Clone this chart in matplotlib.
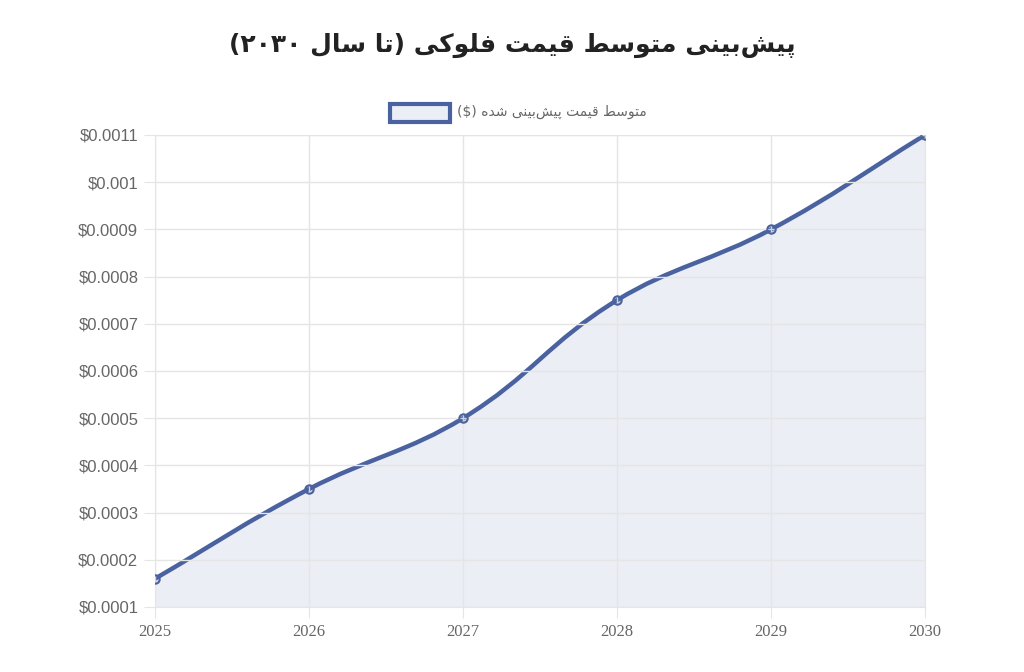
import matplotlib
matplotlib.use("Agg")
import matplotlib.pyplot as plt
from matplotlib.path import Path
from matplotlib.patches import PathPatch, Rectangle
import numpy as np

years = [2025, 2026, 2027, 2028, 2029, 2030]
prices = [0.00016, 0.00035, 0.0005, 0.00075, 0.0009, 0.0011]
yticks = [0.0001, 0.0002, 0.0003, 0.0004, 0.0005, 0.0006, 0.0007, 0.0008, 0.0009, 0.001, 0.0011]
title_text = "پیش\u200cبینی متوسط قیمت فلوکی (تا سال ۲۰۳۰)"
legend_text = "متوسط قیمت پیش\u200cبینی شده ($)"

FORMS = {
    'ا': (0xFE8D, 0xFE8E, None, None), 'ب': (0xFE8F, 0xFE90, 0xFE91, 0xFE92),
    'پ': (0xFB56, 0xFB57, 0xFB58, 0xFB59), 'ت': (0xFE95, 0xFE96, 0xFE97, 0xFE98),
    'د': (0xFEA9, 0xFEAA, None, None), 'س': (0xFEB1, 0xFEB2, 0xFEB3, 0xFEB4),
    'ش': (0xFEB5, 0xFEB6, 0xFEB7, 0xFEB8), 'ط': (0xFEC1, 0xFEC2, 0xFEC3, 0xFEC4),
    'ف': (0xFED1, 0xFED2, 0xFED3, 0xFED4), 'ق': (0xFED5, 0xFED6, 0xFED7, 0xFED8),
    'ک': (0xFB8E, 0xFB8F, 0xFB90, 0xFB91), 'ل': (0xFEDD, 0xFEDE, 0xFEDF, 0xFEE0),
    'م': (0xFEE1, 0xFEE2, 0xFEE3, 0xFEE4), 'ن': (0xFEE5, 0xFEE6, 0xFEE7, 0xFEE8),
    'ه': (0xFEE9, 0xFEEA, 0xFEEB, 0xFEEC), 'و': (0xFEED, 0xFEEE, None, None),
    'ی': (0xFBFC, 0xFBFD, 0xFBFE, 0xFBFF),
}

def shape(s):
    out = []
    chars = list(s)
    for i, c in enumerate(chars):
        if c not in FORMS:
            if c != '\u200c':
                out.append(c)
            continue
        f = FORMS[c]
        prev = chars[i - 1] if i > 0 else None
        nxt = chars[i + 1] if i + 1 < len(chars) else None
        jp = prev in FORMS and FORMS[prev][2] is not None
        jn = nxt in FORMS and f[2] is not None
        if jp and jn:
            out.append(chr(f[3]))
        elif jp:
            out.append(chr(f[1]))
        elif jn:
            out.append(chr(f[2]))
        else:
            out.append(chr(f[0]))
    # visual order: reverse, keep digit/latin runs LTR, mirror parens
    runs, cur = [], ""
    def isltr(ch):
        return ch.isdigit() or ch == '$'
    for ch in out:
        if isltr(ch):
            cur += ch
        else:
            if cur:
                runs.append(cur); cur = ""
            runs.append(ch)
    if cur:
        runs.append(cur)
    mirror = {'(': ')', ')': '('}
    return "".join(mirror.get(r, r) for r in reversed(runs))

fig = plt.figure(figsize=(10.24, 6.72), dpi=100)
ax = fig.add_axes([155/1024, 1-607/672, 770/1024, 472/672])

# chart.js-like bezier (tension 0.4)
x = np.array(years, float); y = np.array(prices, float)
t = 0.4
verts = [(x[0], y[0])]; codes = [Path.MOVETO]
n = len(x)
def ctrl(i):
    p0 = i - 1 if i > 0 else i
    p2 = i + 1 if i < n - 1 else i
    d01 = np.hypot(x[i]-x[p0], (y[i]-y[p0])*5000)
    d12 = np.hypot(x[p2]-x[i], (y[p2]-y[i])*5000)
    s = d01+d12 if d01+d12 else 1
    fa = t*d01/s; fb = t*d12/s
    return ((x[i]-fa*(x[p2]-x[p0]), y[i]-fa*(y[p2]-y[p0])),
            (x[i]+fb*(x[p2]-x[p0]), y[i]+fb*(y[p2]-y[p0])))
cps = [ctrl(i) for i in range(n)]
for i in range(n-1):
    verts += [cps[i][1], cps[i+1][0], (x[i+1], y[i+1])]
    codes += [Path.CURVE4]*3
line_path = Path(verts, codes)
fill_path = Path(verts + [(x[-1], 0.0001), (x[0], 0.0001), (x[0], y[0])],
                 codes + [Path.LINETO, Path.LINETO, Path.CLOSEPOLY])
col = '#4a62a0'
ax.add_patch(PathPatch(fill_path, facecolor=(0.29, 0.38, 0.63, 0.1), edgecolor='none'))
ax.add_patch(PathPatch(line_path, facecolor='none', edgecolor=col, lw=3.2))
ax.plot(years, prices, 'o', ms=6, mfc=(0.29, 0.38, 0.63, 0.15), mec=col, mew=1.5, zorder=5)

ax.set_xlim(2025, 2030); ax.set_ylim(0.0001, 0.0011)
ax.set_xticks(years); ax.set_yticks(yticks)
ax.set_yticklabels([f"${v:g}" for v in yticks], fontfamily='Liberation Sans', fontsize=12, color='#666666')
ax.set_xticklabels([str(v) for v in years], fontfamily='Liberation Serif', fontsize=12, color='#666666')
ax.grid(True, color='#e5e5e5', lw=1)
for s in ax.spines.values():
    s.set_color('#e5e5e5')
ax.tick_params(length=8, color='#e5e5e5', pad=4)

fig.text(0.5, 1-45/672, shape(title_text), ha='center', va='center',
         fontfamily='DejaVu Sans', fontweight='bold', fontsize=18, color='#222222')
fig.patches.append(Rectangle((390/1024, 1-122/672), 60/1024, 18/672, transform=fig.transFigure,
                             facecolor=(0.29, 0.38, 0.63, 0.1), edgecolor=col, lw=3))
fig.text(457/1024, 1-112/672, shape(legend_text), ha='left', va='center',
         fontfamily='DejaVu Sans', fontsize=10, color='#666666')
fig.savefig("out.png", dpi=100)
